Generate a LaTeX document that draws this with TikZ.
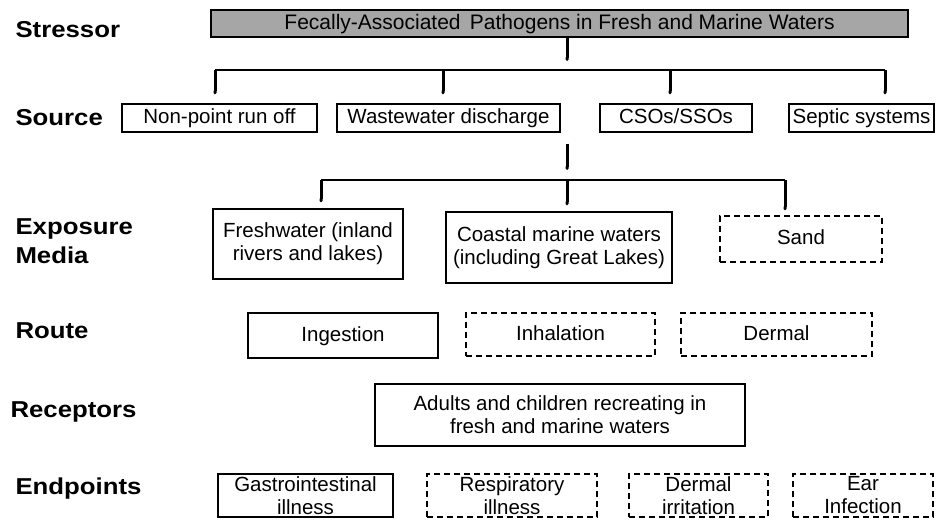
\documentclass[tikz,border=0pt]{standalone}
\usepackage{fontspec}
\setmainfont{Liberation Sans}
\newfontfamily\levelfont[FakeStretch=1.12]{Liberation Sans}
\usetikzlibrary{arrows.meta}

\begin{document}
\begin{tikzpicture}[x=1pt,y=-1pt,
	main/.style = {draw, line width=1.3pt, align=center, inner sep=1pt, font=\fontsize{20.5}{23}\selectfont},
	oneline/.style = {text height=15pt, text depth=4pt},
	dashbox/.style = {main, dash pattern=on 6pt off 4pt},
	level/.style = {anchor=base west, align=left, font=\levelfont\bfseries\fontsize{23}{28}\selectfont},
	stem/.style = {line width=3pt, -{Triangle Cap[]}},
	bar/.style = {line width=2pt}]
	\useasboundingbox (0,0) rectangle (936,523);
	\node[level] (l1) at (12,37) {Stressor};
	\node[level] (l2) at (12,125) {Source};
	\node[level] (l3) at (12,263) {Exposure\\[1pt]Media};
	\node[level] (l4) at (12,338) {Route};
	\node[level] (l5) at (7,417) {Receptors};
	\node[level] (l6) at (12,494) {Endpoints};
	\node[main, oneline, fill=gray!70, minimum width=697pt, minimum height=27pt, font=\fontsize{21}{23}\selectfont] (stressor) at (559.5,23.5) {Fecally-Associated\, Pathogens in Fresh and Marine Waters};
	\node[main, oneline, minimum width=195pt, minimum height=28pt] (nonpoint) at (219.5,118) {Non-point run off};
	\node[main, oneline, minimum width=223pt, minimum height=28pt] (wastewater) at (448.5,118) {Wastewater discharge};
	\node[main, oneline, minimum width=152pt, minimum height=28pt] (csos) at (676,118) {CSOs/SSOs};
	\node[main, oneline, minimum width=145pt, minimum height=28pt, inner sep=0pt] (septic) at (861.5,118) {Septic systems};
	\node[main, minimum width=190pt, minimum height=70pt] (fresh) at (308,244) {Freshwater (inland\\rivers and lakes)};
	\node[main, minimum width=226pt, minimum height=71pt] (coastal) at (559,247.5) {Coastal marine waters\\(including Great Lakes)};
	\node[dashbox, oneline, minimum width=162pt, minimum height=46pt] (sand) at (801,239) {Sand};
	\node[main, oneline, minimum width=190pt, minimum height=45pt] (ingest) at (343,335.5) {Ingestion};
	\node[dashbox, oneline, minimum width=189pt, minimum height=43pt] (inhale) at (560.5,334.5) {Inhalation};
	\node[dashbox, oneline, minimum width=191pt, minimum height=43pt] (dermal) at (776.5,334.5) {Dermal};
	\node[main, minimum width=370pt, minimum height=62pt] (adults) at (560,415) {Adults and children recreating in\\fresh and marine waters};
	\node[main, minimum width=175pt, minimum height=43pt] (gi) at (305.5,495.5) {Gastrointestinal\\illness};
	\node[dashbox, minimum width=170pt, minimum height=43pt] (resp) at (512,495.5) {Respiratory\\illness};
	\node[dashbox, minimum width=139pt, minimum height=43pt] (dermirr) at (698.5,495.5) {Dermal\\irritation};
	\node[dashbox, minimum width=140pt, minimum height=43pt] (ear) at (863,495.5) {Ear\\Infection};
	\coordinate (top) at (567,61);
	\coordinate (s1) at (215,70);
	\coordinate (s2) at (443,70);
	\coordinate (s3) at (670,70);
	\coordinate (s4) at (885,70);
	\coordinate (mid) at (567,170);
	\coordinate (e1) at (321,180);
	\coordinate (e2) at (567,180);
	\coordinate (e3) at (785,180);
	\draw[stem] (stressor.south -| top) -- (top);
	\draw[bar] (s1) -- (s4);
	\draw[stem, shorten >=9pt] (s1) -- (s1 |- nonpoint.north);
	\draw[stem, shorten >=9pt] (s2) -- (s2 |- wastewater.north);
	\draw[stem, shorten >=9pt] (s3) -- (s3 |- csos.north);
	\draw[stem, shorten >=9pt] (s4) -- (s4 |- septic.north);
	\draw[stem, shorten <=11pt] (mid |- wastewater.south) -- (mid);
	\draw[bar] (e1) -- (e3);
	\draw[stem, shorten >=6pt] (e1) -- (e1 |- fresh.north);
	\draw[stem, shorten >=6pt] (e2) -- (e2 |- coastal.north);
	\draw[stem, shorten >=5pt] (e3) -- (e3 |- sand.north);
\end{tikzpicture}
\end{document}
